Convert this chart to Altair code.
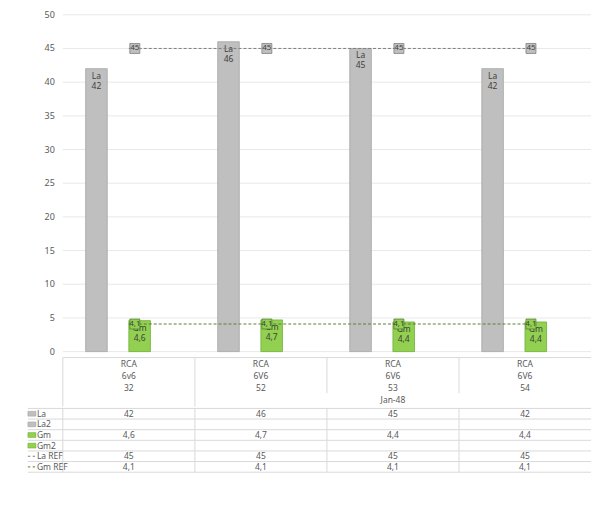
import altair as alt
import pandas as pd

# ---------------- data ----------------
brand = ["RCA", "RCA", "RCA", "RCA"]
tube = ["6v6", "6V6", "6V6", "6V6"]
model = ["32", "52", "53", "54"]
period = ["", "Jan-48", "Jan-48", "Jan-48"]

la = [42, 46, 45, 42]
la2 = [None, None, None, None]
gm = [4.6, 4.7, 4.4, 4.4]
gm2 = [None, None, None, None]
la_ref = [45, 45, 45, 45]
gm_ref = [4.1, 4.1, 4.1, 4.1]

bar_series = ["La", "La2", "Gm", "Gm2"]
line_series = ["La REF", "Gm REF"]
all_series = bar_series + line_series
series_values = {"La": la, "La2": la2, "Gm": gm, "Gm2": gm2,
                 "La REF": la_ref, "Gm REF": gm_ref}
y_ticks = [0, 5, 10, 15, 20, 25, 30, 35, 40, 45, 50]

# ---------------- styles ----------------
FONT = "Noto Sans"
W = 530
H_MAIN = 338
H_HEAD = 49
H_TAB = 64
LINE_COL = "#D9D9D9"
GRID_COL = "#E8E8E8"
TXT_COL = "#595959"
fill_map = {"La": "#BFBFBF", "La2": "#BFBFBF", "Gm": "#92D050", "Gm2": "#92D050",
            "La REF": "#BFBFBF", "Gm REF": "#92D050"}
stroke_map = {"La": "#A5A5A5", "La2": "#A5A5A5", "Gm": "#6FAE3A", "Gm2": "#6FAE3A",
              "La REF": "#7F7F7F", "Gm REF": "#548235"}


def fmt(v):
    if v is None:
        return ""
    return f"{v:g}".replace(".", ",")


cats = [f"{b} {t} {m} {i}" for i, (b, t, m) in enumerate(zip(brand, tube, model))]

# ---------------- main plot ----------------
bar_rows = []
for s in bar_series:
    for c, v in zip(cats, series_values[s]):
        if v is not None:
            bar_rows.append({"cat": c, "series": s, "value": v, "label": fmt(v)})
bars_df = pd.DataFrame(bar_rows)

ref_rows = []
for s in line_series:
    for c, v in zip(cats, series_values[s]):
        ref_rows.append({"cat": c, "series": s, "value": v, "label": fmt(v)})
ref_df = pd.DataFrame(ref_rows)

ticks_df = pd.DataFrame({"value": y_ticks, "label": [str(t) for t in y_ticks]})

x_main = alt.X("cat:N", sort=cats, axis=None,
               scale=alt.Scale(domain=cats, paddingInner=0.346, paddingOuter=0.173))
x_off = alt.XOffset("series:N", scale=alt.Scale(domain=bar_series, paddingInner=0, paddingOuter=0))
y_main = alt.Y("value:Q", title=None, axis=None,
               scale=alt.Scale(domain=[0, 50], nice=False, zero=True))
fill_scale = alt.Scale(domain=all_series, range=[fill_map[s] for s in all_series])
stroke_scale = alt.Scale(domain=all_series, range=[stroke_map[s] for s in all_series])

grid = alt.Chart(ticks_df).mark_rule(color=GRID_COL, strokeWidth=1).encode(
    x=alt.value(0), x2=alt.value(W), y=y_main)
ylabels = alt.Chart(ticks_df).mark_text(align="right", baseline="middle", fontSize=9,
                                        font=FONT, color=TXT_COL).encode(
    x=alt.value(-8), y=y_main, text="label:N")
# reserves the left and top margins so the plot starts where the reference's does
spacer = alt.Chart(ticks_df.head(1)).mark_rule(color="white", strokeWidth=1).encode(
    x=alt.value(-54), x2=alt.value(-53), y=alt.value(-5), y2=alt.value(-4))

bars = alt.Chart(bars_df).mark_bar(strokeWidth=0.8).encode(
    x=x_main, xOffset=x_off, y=y_main,
    fill=alt.Fill("series:N", scale=fill_scale, legend=None),
    stroke=alt.Stroke("series:N", scale=stroke_scale, legend=None),
)
bar_names = alt.Chart(bars_df).mark_text(dy=7, fontSize=8.5, font=FONT, color="#404040").encode(
    x=x_main, xOffset=x_off, y=y_main, text="series:N")
bar_vals = alt.Chart(bars_df).mark_text(dy=17, fontSize=8.5, font=FONT, color="#404040").encode(
    x=x_main, xOffset=x_off, y=y_main, text="label:N")

ref_lines = alt.Chart(ref_df).mark_line(strokeDash=[3, 2], strokeWidth=1).encode(
    x=x_main, y=y_main,
    stroke=alt.Stroke("series:N", scale=stroke_scale, legend=None),
    detail="series:N")
ref_boxes = alt.Chart(ref_df).mark_square(size=100, xOffset=6, filled=True, strokeWidth=0.8,
                                          opacity=1).encode(
    x=x_main, y=y_main,
    fill=alt.Fill("series:N", scale=fill_scale, legend=None),
    stroke=alt.Stroke("series:N", scale=stroke_scale, legend=None))
ref_text = alt.Chart(ref_df).mark_text(dx=6, fontSize=8, font=FONT, color="#404040").encode(
    x=x_main, y=y_main, text="label:N")

main = alt.layer(grid, ylabels, spacer, bars, bar_names, bar_vals,
                 ref_lines, ref_boxes, ref_text).properties(width=W, height=H_MAIN)

# ---------------- category header ----------------
levels = ["brand", "tube", "model", "period"]
head_rows = []
for i, c in enumerate(cats):
    head_rows.append({"cat": c, "level": "brand", "text": brand[i]})
    head_rows.append({"cat": c, "level": "tube", "text": tube[i]})
    head_rows.append({"cat": c, "level": "model", "text": model[i]})
groups = []
for i, p in enumerate(period):
    if i == 0 or p != period[i - 1]:
        groups.append([p, [i]])
    else:
        groups[-1][1].append(i)
for p, idx in groups:
    if p:
        head_rows.append({"cat": cats[idx[len(idx) // 2]], "level": "period", "text": p})
head_df = pd.DataFrame(head_rows)

starts = pd.DataFrame({"cat": cats,
                       "grp_start": [i == 0 or period[i] != period[i - 1] for i in range(len(cats))]})

tab_x_scale = alt.Scale(domain=cats, paddingInner=0, paddingOuter=0)
x_tab = alt.X("cat:N", sort=cats, axis=None, scale=tab_x_scale)
x_edge = alt.X("cat:N", sort=cats, axis=None, bandPosition=0, scale=tab_x_scale)
y_head = alt.Y("level:N", axis=None,
               scale=alt.Scale(domain=levels, paddingInner=0, paddingOuter=0))

head_text = alt.Chart(head_df).mark_text(fontSize=8.5, font=FONT, color=TXT_COL).encode(
    x=x_tab, y=y_head, text="text:N")
vfull = alt.Chart(starts[starts.grp_start]).mark_rule(color=LINE_COL, strokeWidth=1).encode(
    x=x_edge, y=alt.value(0), y2=alt.value(H_HEAD))
vshort = alt.Chart(starts[~starts.grp_start]).mark_rule(color=LINE_COL, strokeWidth=1).encode(
    x=x_edge, y=alt.value(0), y2=alt.value(H_HEAD * 3 / 4 - 1))
head_top = alt.Chart(starts.head(1)).mark_rule(color=LINE_COL, strokeWidth=1).encode(
    x=alt.value(0), x2=alt.value(W), y=alt.value(0))
header = alt.layer(head_text, vfull, vshort, head_top).properties(width=W, height=H_HEAD)

# ---------------- data table ----------------
tab_rows = []
for s in all_series:
    for c, v in zip(cats, series_values[s]):
        if v is not None:
            tab_rows.append({"cat": c, "row": s, "text": fmt(v)})
tab_df = pd.DataFrame(tab_rows)
rows_df = pd.DataFrame({"row": all_series,
                        "kind": ["bar"] * 4 + ["line"] * 2})

y_tab_scale = alt.Scale(domain=all_series, paddingInner=0, paddingOuter=0)
y_tab = alt.Y("row:N", axis=None, scale=y_tab_scale)

tab_text = alt.Chart(tab_df).mark_text(fontSize=8.5, font=FONT, color=TXT_COL).encode(
    x=x_tab, y=y_tab, text="text:N")
hlines = alt.Chart(rows_df).mark_rule(color=LINE_COL, strokeWidth=1).encode(
    x=alt.value(-35), x2=alt.value(W),
    y=alt.Y("row:N", axis=None, scale=y_tab_scale, bandPosition=0))
hbottom = alt.Chart(rows_df.tail(1)).mark_rule(color=LINE_COL, strokeWidth=1).encode(
    x=alt.value(-35), x2=alt.value(W),
    y=alt.Y("row:N", axis=None, scale=y_tab_scale, bandPosition=1))
vlines = alt.Chart(starts).mark_rule(color=LINE_COL, strokeWidth=1).encode(
    x=x_edge, y=alt.value(0), y2=alt.value(H_TAB))
row_labels = alt.Chart(rows_df).mark_text(align="left", fontSize=8.5, font=FONT, color=TXT_COL).encode(
    x=alt.value(-26), y=y_tab, text="row:N")
key_bars = alt.Chart(rows_df[rows_df.kind == "bar"]).mark_point(
    shape="M-1,-0.6H1V0.6H-1Z", size=64, filled=True, strokeWidth=0.6, opacity=1).encode(
    x=alt.value(-31), y=y_tab,
    fill=alt.Fill("row:N", scale=fill_scale, legend=None),
    stroke=alt.Stroke("row:N", scale=stroke_scale, legend=None))
key_lines = alt.Chart(rows_df[rows_df.kind == "line"]).mark_point(
    shape="M-1,0H-0.4M0.2,0H0.8", size=64, filled=False, strokeWidth=1, opacity=1).encode(
    x=alt.value(-31), y=y_tab,
    stroke=alt.Stroke("row:N", scale=stroke_scale, legend=None))
table = alt.layer(tab_text, hlines, hbottom, vlines, row_labels, key_bars, key_lines).properties(
    width=W, height=H_TAB)

chart = alt.vconcat(main, header, table, spacing=0, padding=0).resolve_scale(
    x="independent", y="independent", fill="independent", stroke="independent"
).configure(background="white").configure_view(strokeWidth=0, stroke="transparent")

chart.save("out.html", embed_options={"renderer": "svg", "actions": False})
